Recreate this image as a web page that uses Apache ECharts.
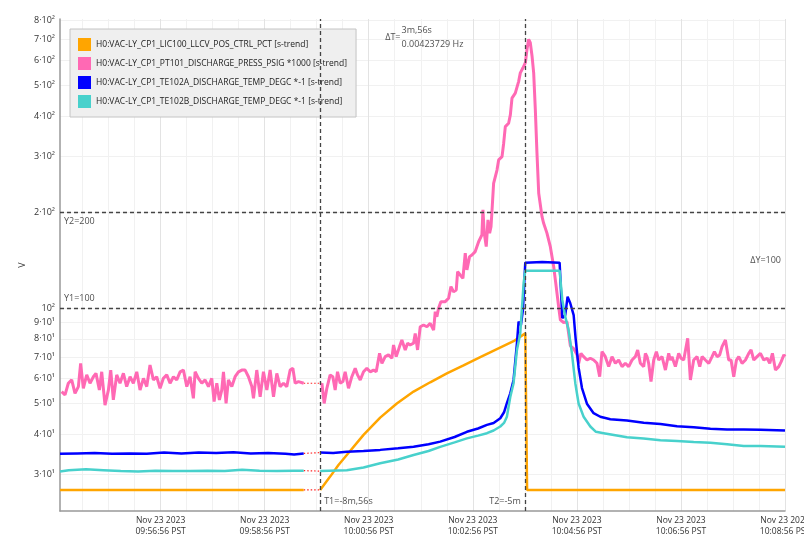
<!DOCTYPE html>
<html>
<head>
<meta charset="utf-8">
<script src="https://cdn.jsdelivr.net/npm/echarts@6/dist/echarts.min.js"></script>
<style>
  html, body { margin: 0; padding: 0; background: #fff; }
  #chart { width: 804px; height: 551px; }
</style>
</head>
<body>
<div id="chart"></div>
<script>
const START = Date.UTC(2023, 10, 23, 9, 55, 0)
const END = 836

const names = [
  'H0:VAC-LY_CP1_LIC100_LLCV_POS_CTRL_PCT [s-trend]',
  'H0:VAC-LY_CP1_PT101_DISCHARGE_PRESS_PSIG *1000 [s-trend]',
  'H0:VAC-LY_CP1_TE102A_DISCHARGE_TEMP_DEGC *-1 [s-trend]',
  'H0:VAC-LY_CP1_TE102B_DISCHARGE_TEMP_DEGC *-1 [s-trend]'
]
const colors = ['#ffa500', '#ff69b4', '#0000ff', '#48d1cc']

const xLabelTicks = [116, 236, 356, 476, 596, 716, 836]
const xMinorTicks = [26, 56, 86, 146, 176, 206, 266, 296, 326, 386, 416, 446, 506, 536, 566, 626, 656, 686, 746, 776, 806]
const yTicks = [30, 40, 50, 60, 70, 80, 90, 100, 200, 300, 400, 500, 600, 700, 800]

// cursors
const cursorT = [300, 536]
const cursorY = [100, 200]

// orange: LIC100 valve position
const orangeA = [[0, 26.8], [281, 26.8]]
const orangeB = [[300, 26.8], [311.5, 29.5], [321.1, 32.1], [330.7, 34.5], [350, 39.9], [369.2, 45.2],
  [388.4, 50.1], [407.7, 54.6], [426.9, 58.4], [446.1, 62.3], [465.3, 66.0], [484.6, 70.0], [503.8, 74.2],
  [523, 78.6], [536.5, 83.2], [538.5, 83.8], [538.6, 26.8], [836, 26.8]]

// pink: PT101 discharge pressure
const pinkA = [[1.9, 54.6], [5.8, 53.3], [9.6, 58.0], [13.5, 59.4], [17.3, 53.9], [21.2, 56.6], [23.8, 67.0],
  [26.9, 55.9], [30.8, 61.6], [34.6, 58.0], [38.5, 60.8], [41.5, 62.3], [45.4, 55.2], [48.1, 63.0], [51.9, 49.5],
  [55.8, 55.2], [58.5, 63.8], [61.5, 51.4], [65.4, 61.6], [69.2, 58.0], [73.1, 62.3], [76.9, 56.6], [80.8, 60.8],
  [84.6, 58.0], [88.5, 63.0], [92.3, 55.2], [96.2, 60.1], [100, 56.6], [103.8, 66.2], [107.7, 59.4], [111.5, 60.8],
  [115.4, 55.9], [119.2, 60.1], [123.1, 61.6], [126.9, 58.0], [130.8, 60.8], [134.6, 59.4], [138.5, 63.0],
  [142.3, 63.8], [146.2, 56.6], [150, 60.8], [153.8, 52.0], [155.8, 63.0], [159.6, 60.1], [163.5, 58.0],
  [167.3, 59.4], [171.2, 56.6], [175, 60.1], [177.7, 50.8], [180.8, 58.0], [183.8, 51.4], [186.5, 55.2],
  [188.5, 63.0], [191.5, 50.1], [194.2, 59.4], [198.1, 56.6], [201.9, 60.8], [205.8, 63.0], [209.6, 63.8],
  [213.5, 63.8], [217.3, 60.8], [221.2, 56.6], [223.1, 52.0], [226.9, 63.8], [230.8, 52.6], [234.6, 63.0],
  [238.5, 55.2], [242.3, 63.8], [246.2, 52.6], [250, 62.3], [253.8, 56.6], [257.7, 58.0], [261.5, 56.6],
  [265.4, 63.8], [268.5, 64.6], [271.2, 58.0], [275, 58.7], [281, 58.0]]
const pinkB = [[302, 58.0], [304.6, 50.1], [307.7, 55.9], [311.5, 61.6], [314.6, 60.8], [317.3, 55.2], [320, 63.0],
  [323.1, 58.0], [326.2, 58.7], [328.8, 63.0], [332.7, 55.9], [336.5, 60.8], [340.4, 64.6], [343.1, 61.6],
  [346.2, 59.4], [350, 63.0], [353.8, 64.6], [357.7, 63.0], [361.5, 63.8], [364.6, 63.0], [368.5, 72.0],
  [371.2, 67.0], [375, 70.3], [378.8, 71.2], [382.7, 69.5], [384.6, 76.5], [387.7, 70.3], [391.5, 75.6],
  [394.2, 79.3], [398.1, 73.8], [400.8, 77.5], [403.8, 76.5], [407.7, 77.5], [409.6, 83.2], [412.3, 73.8],
  [415.4, 87.3], [419.2, 88.4], [423.1, 87.3], [426.9, 89.5], [430.8, 85.2], [432.7, 97.4], [434.6, 93.9],
  [436.5, 99.8], [439.2, 104.7], [444.2, 104.7], [448.1, 107.3], [450.8, 116.7], [453.8, 112.5], [456.9, 113.9],
  [458.5, 130.1], [461.5, 127.0], [464.6, 124.0], [467.3, 148.6], [469.2, 131.7], [472.3, 145.0], [475, 146.8],
  [478.8, 150.4], [482.7, 161.5], [486.5, 169.7], [487.7, 203.6], [489.2, 171.9], [491.5, 155.9], [493.5, 189.1],
  [495.4, 171.9], [497, 180], [498.5, 210], [500, 246.4], [503.9, 271.3], [505.8, 292.1], [509.7, 299.2],
  [511.6, 329.6], [513.5, 371.6], [517.3, 380.8], [519.3, 404.5], [521.2, 456.8], [525, 473.8], [528.9, 515.8],
  [530.8, 548.4], [533.9, 568.9], [536.6, 590.2], [538.5, 650.3], [540.4, 699.0], [542.3, 682.1], [544.3, 619.9],
  [546.2, 548.4], [548.1, 420.4], [550, 306.8], [552, 229.4], [555.8, 193.7], [557.7, 184.6], [561.5, 171.9],
  [565.4, 155.9], [569.3, 134.8], [571.2, 122.5], [573.1, 111.2], [575, 100.9], [577, 91.7], [580.7, 90],
  [584.6, 90.6], [588.5, 76], [592.3, 74.5], [596.2, 71.2], [598.1, 67.0], [600.7, 72.0], [603.8, 70.3],
  [607.7, 68.6], [611.5, 69.5], [615.4, 68.6], [619.2, 67.0], [622.3, 60.8], [625, 72.9], [628.8, 70.3],
  [632.7, 65.4], [636.5, 70.3], [640.4, 67.0], [644.2, 68.6], [648.1, 65.4], [651.9, 67.0], [655.8, 65.4],
  [659.6, 68.6], [663.4, 70.3], [666.1, 73.8], [669.2, 67.0], [673.1, 65.4], [675, 72.0], [676.9, 70.3],
  [678.8, 67.0], [681.5, 58.7], [684.6, 68.6], [687.7, 72.9], [690.4, 68.6], [694.2, 70.3], [698.1, 63.8],
  [701.9, 72.0], [703.8, 68.6], [705.7, 70.3], [709.6, 65.4], [713.4, 72.0], [716.1, 69.5], [719.2, 68.6],
  [723.8, 80.3], [726.9, 59.4], [730.7, 68.6], [734.6, 70.3], [737.7, 65.4], [740.4, 70.3], [744.2, 68.6],
  [748.1, 67.0], [751.9, 70.3], [754.6, 72.9], [757.7, 70.3], [760.7, 71.2], [763.4, 75.6], [767.3, 79.3],
  [771.1, 68.6], [773.8, 68.6], [776.9, 60.8], [780, 68.6], [782.7, 70.3], [786.5, 67.0], [790.4, 68.6],
  [794.2, 72.0], [796.9, 73.8], [800, 68.6], [803.8, 70.3], [807.7, 72.0], [811.5, 68.6], [815.4, 69.5],
  [818.4, 67.0], [821.5, 72.0], [825, 63.8], [828.8, 65.4], [831.6, 67.8], [834.7, 71.2], [836, 70.3]]

// blue: TE102A discharge temperature
const blueA = [[0, 34.8], [20, 34.9], [40, 35.0], [60, 34.8], [80, 34.9], [100, 34.8], [120, 35.1], [140, 34.9],
  [160, 35.1], [180, 35.0], [200, 35.2], [220, 34.9], [240, 35.0], [260, 34.8], [270, 34.6], [281, 34.9]]
const blueB = [[300, 35.1], [315, 35.0], [330.7, 35.3], [350, 35.5], [369.2, 35.8], [390, 36.2], [407.7, 36.6],
  [425, 37.3], [438.4, 38.0], [455, 39.3], [469.2, 40.8], [482, 41.8], [492.3, 42.9], [500, 43.5], [507.7, 45.0],
  [512, 47], [515.3, 50.2], [519.2, 53.9], [523, 59.4], [526.9, 77.4], [528.8, 90.6], [531.5, 88.4], [533.8, 98.6],
  [536.5, 138.8], [556, 139.5], [576.1, 138.8], [579.2, 93], [582.6, 95], [585.3, 108.5], [588.4, 103.5],
  [592.3, 95.0], [594.6, 80], [598, 65], [601.9, 56], [607.6, 50], [615.3, 46.7], [623, 45.5], [634.6, 44.7],
  [653.8, 44.3], [673.1, 43.6], [692.3, 43.2], [711.5, 42.5], [730.7, 42.2], [750, 41.7], [769.2, 41.5],
  [788.4, 41.5], [807.7, 41.4], [836, 41.2]]

// cyan: TE102B discharge temperature
const cyanA = [[0, 30.6], [10, 30.9], [30, 31.1], [50, 30.9], [70, 30.7], [90, 30.6], [110, 30.8], [130, 30.7],
  [150, 30.7], [170, 30.8], [190, 30.7], [210, 31.0], [230, 30.8], [250, 30.7], [270, 30.8], [281, 30.8]]
const cyanB = [[300, 30.7], [330.7, 30.9], [350, 31.5], [369.2, 32.5], [390, 33.4], [407.7, 34.5], [425, 35.5],
  [438.4, 36.6], [455, 37.8], [469.2, 38.9], [482, 39.7], [492.3, 40.4], [500, 41.2], [507.7, 42.4], [512, 43.5],
  [515.3, 45.5], [519.2, 52.5], [523, 58.0], [526.9, 73.8], [530.7, 83.2], [534.6, 119.6], [536.5, 131.0],
  [576.1, 131.0], [579.2, 106], [582.6, 93.9], [586.5, 85.2], [590.3, 72.0], [594.2, 58], [598, 50.1],
  [603.8, 45.5], [611.5, 42.4], [618, 40.8], [626.9, 40.4], [653.8, 39.2], [673, 38.9], [692.3, 38.4],
  [711.5, 38.2], [730.7, 37.9], [750, 37.7], [769.2, 37.3], [788.4, 36.8], [807.7, 36.8], [836, 36.6]]

const segments = [[orangeA, orangeB], [pinkA, pinkB], [blueA, blueB], [cyanA, cyanB]]
const widths = [2.5, 3, 2.5, 2.5]

const FONT = 'Open Sans'
const pad = n => String(n).padStart(2, '0')
function timeLabel (v) {
  const d = new Date(START + v * 1000)
  return 'Nov 23 2023\n' + pad(d.getUTCHours()) + ':' + pad(d.getUTCMinutes()) + ':' + pad(d.getUTCSeconds()) + ' PST'
}
const SUP = { 1: '¹', 2: '²', 3: '³' }
function powLabel (v) {
  const e = Math.floor(Math.log10(v) + 1e-9)
  const m = Math.round(v / Math.pow(10, e))
  return (m === 1 ? '' : m + '·') + '10' + SUP[e]
}

const series = []
segments.forEach(function (seg, i) {
  series.push({
    name: names[i],
    type: 'line',
    data: seg[0].concat([[290, '-']], seg[1]),
    showSymbol: false,
    symbol: 'none',
    connectNulls: false,
    color: colors[i],
    lineStyle: { width: widths[i], color: colors[i] },
    silent: true
  })
})
// red dotted links across the data gap
segments.forEach(function (seg) {
  series.push({
    type: 'line',
    data: [seg[0][seg[0].length - 1], seg[1][0]],
    showSymbol: false,
    symbol: 'none',
    lineStyle: { width: 1.2, color: '#ff2020', type: [1.5, 2] },
    silent: true,
    z: 1
  })
})

const annStyle = { show: true, fontFamily: FONT, fontSize: 9, color: '#222' }
series.push({
  type: 'scatter',
  symbolSize: 0,
  silent: true,
  data: [
    { value: [cursorT[0], 24.7], label: Object.assign({}, annStyle, { formatter: 'T1=-8m,56s', position: [4, 0], align: 'left', verticalAlign: 'middle' }) },
    { value: [cursorT[1], 24.7], label: Object.assign({}, annStyle, { formatter: 'T2=-5m', position: [-4, 0], align: 'right', verticalAlign: 'middle' }) },
    { value: [0, cursorY[1]], label: Object.assign({}, annStyle, { formatter: 'Y2=200', position: [4, 5], align: 'left', verticalAlign: 'top' }) },
    { value: [0, cursorY[0]], label: Object.assign({}, annStyle, { formatter: 'Y1=100', position: [4, -5], align: 'left', verticalAlign: 'bottom' }) },
    { value: [END, Math.sqrt(cursorY[0] * cursorY[1])], label: Object.assign({}, annStyle, { formatter: 'ΔY=100', position: [-4, 0], align: 'right', verticalAlign: 'middle' }) },
    { value: [(cursorT[0] + cursorT[1]) / 2, 707], label: Object.assign({}, annStyle, { formatter: 'ΔT=', position: [-22, 0], align: 'right', verticalAlign: 'middle' }) },
    { value: [(cursorT[0] + cursorT[1]) / 2, 707], label: Object.assign({}, annStyle, { formatter: '3m,56s\n0.00423729 Hz', lineHeight: 14, position: [-21, 0], align: 'left', verticalAlign: 'middle' }) }
  ],
  markLine: {
    silent: true,
    symbol: 'none',
    label: { show: false },
    lineStyle: { color: '#444', width: 1.3, type: [4, 3] },
    data: [
      { xAxis: cursorT[0] }, { xAxis: cursorT[1] },
      { yAxis: cursorY[0] }, { yAxis: cursorY[1] }
    ]
  },
  z: 5
})

const chart = echarts.init(document.getElementById('chart'))
chart.setOption({
  animation: false,
  textStyle: { fontFamily: FONT },
  grid: { left: 60, right: 19, top: 19, bottom: 40, containLabel: false, outerBoundsMode: 'none' },
  legend: {
    data: names,
    orient: 'vertical',
    left: 70,
    top: 29,
    icon: 'rect',
    itemWidth: 13,
    itemHeight: 13,
    itemGap: 6,
    padding: [9, 9, 9, 8],
    backgroundColor: '#efefef',
    borderColor: '#c4c4c4',
    borderWidth: 1,
    textStyle: { fontFamily: FONT, fontSize: 8.5, color: '#222' },
    selectedMode: false
  },
  xAxis: [{
    type: 'value',
    min: 0,
    max: END,
    axisLine: { show: true, onZero: false, lineStyle: { color: '#999', width: 1.5 } },
    axisTick: { show: false, customValues: xLabelTicks },
    axisLabel: { customValues: xLabelTicks, formatter: timeLabel, fontSize: 8.5, lineHeight: 11, color: '#333', margin: 4 },
    splitLine: { show: true, lineStyle: { color: '#e3e3e3', width: 1 } }
  }, {
    type: 'value',
    min: 0,
    max: END,
    axisLine: { show: false },
    axisTick: { show: false, customValues: xMinorTicks },
    axisLabel: { show: false },
    splitLine: { show: true, lineStyle: { color: '#f1f1f1', width: 1 } }
  }],
  yAxis: {
    type: 'log',
    logBase: 10,
    min: 23,
    max: 810,
    name: 'V',
    nameLocation: 'middle',
    nameGap: 33,
    nameMoveOverlap: false,
    nameTextStyle: { fontSize: 9, color: '#333' },
    axisLine: { show: true, lineStyle: { color: '#999', width: 1.5 } },
    axisTick: { show: false, customValues: yTicks },
    axisLabel: { customValues: yTicks, formatter: powLabel, fontSize: 9, color: '#333', margin: 5 },
    splitLine: { show: true, lineStyle: { color: '#f1f1f1', width: 1 } }
  },
  series: series
})
</script>
</body>
</html>
